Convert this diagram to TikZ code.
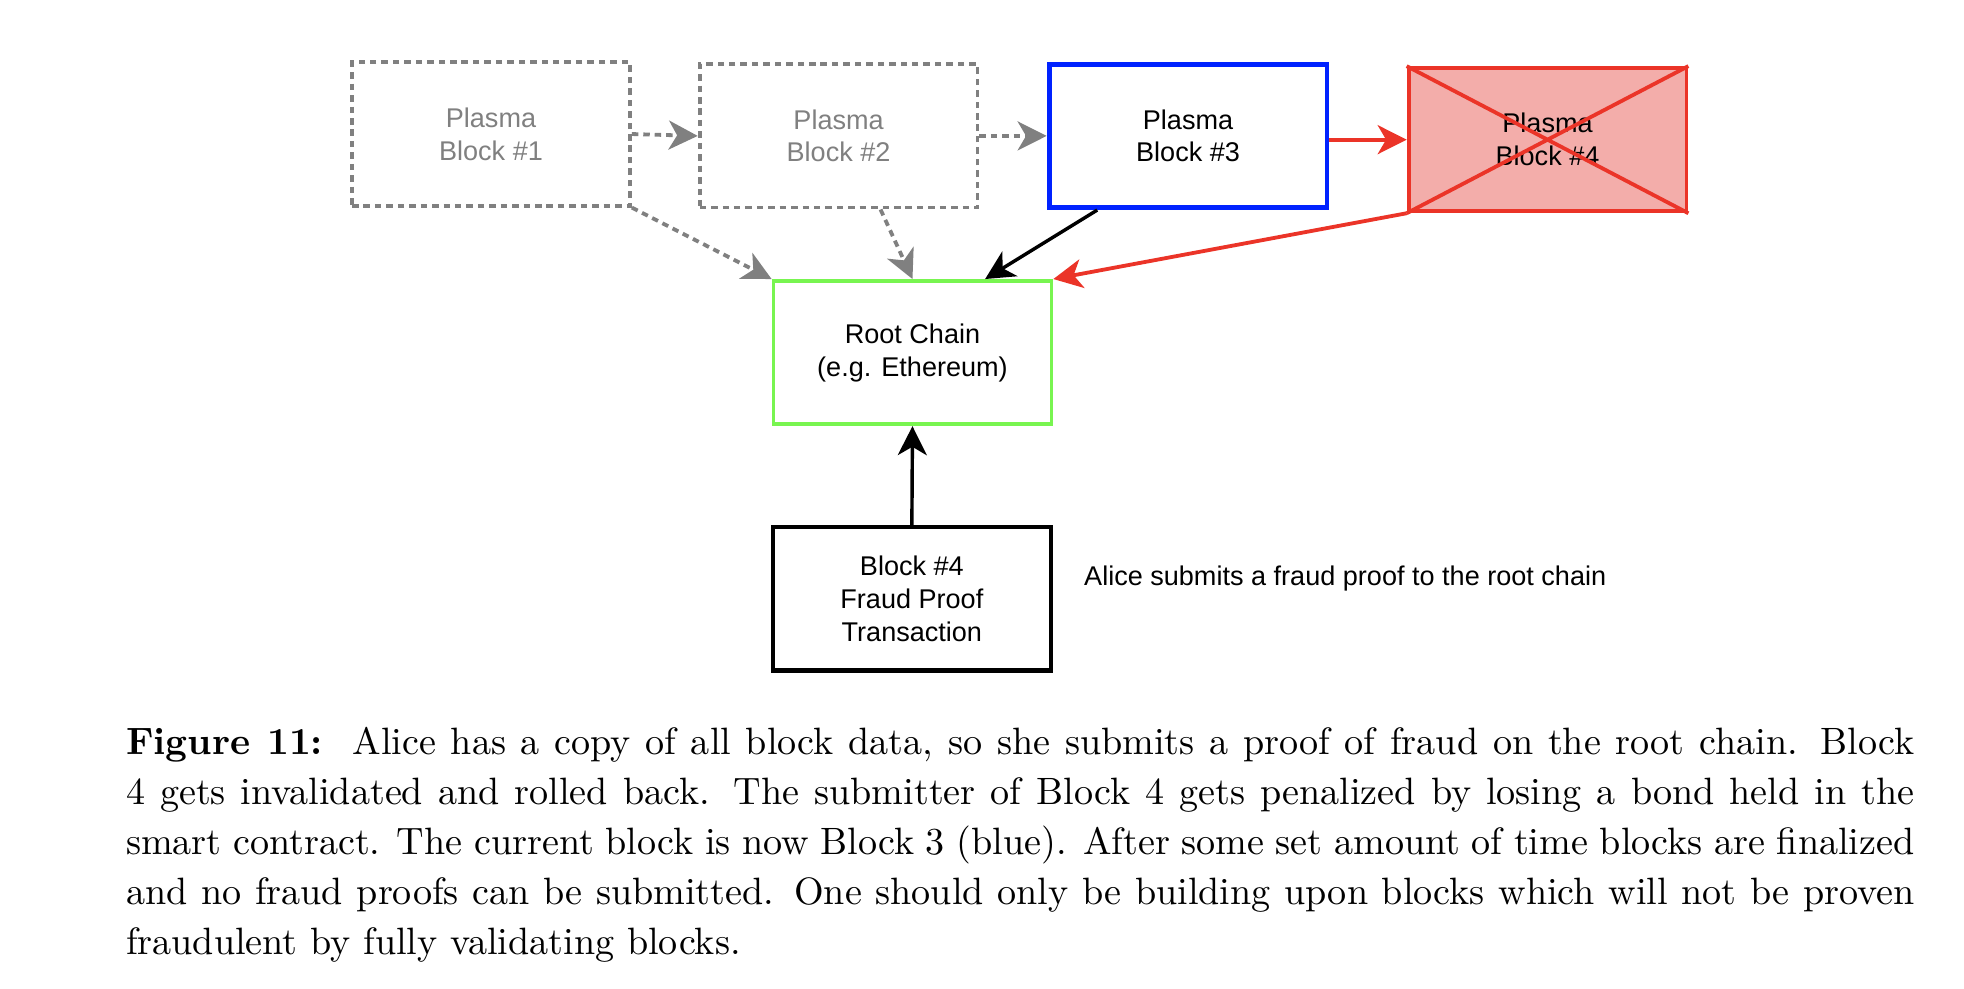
\documentclass[tikz,border=0pt]{standalone}
\usepackage{fontspec}
\newfontfamily\diag{Liberation Sans}
\usetikzlibrary{arrows.meta,calc}
\definecolor{dgray}{RGB}{128,128,128}
\definecolor{dblue}{RGB}{0,34,255}
\definecolor{dred}{RGB}{235,52,40}
\definecolor{dpink}{RGB}{243,173,170}
\definecolor{dgreen}{RGB}{120,245,80}
\newcommand{\capline}[1]{\makebox[469.2pt][s]{#1}}
\begin{document}
\begin{tikzpicture}[x=0.3286pt,y=-0.3286pt,
  blk/.style={draw, minimum width=72.9pt, minimum height=37.6pt, inner sep=0pt,
    align=center, line width=1pt, font=\diag\fontsize{7.1}{8.6}\selectfont},
  ghost/.style={blk, draw=dgray, text=dgray, dash pattern=on 1.7pt off 1.3pt},
  tip/.style={-{Stealth[length=7.6pt,width=7.6pt,inset=2.2pt]}},
  garrow/.style={tip, draw=dgray, line width=1pt, dash pattern=on 1.7pt off 1.3pt},
  barrow/.style={tip, draw=black, line width=0.9pt},
  rarrow/.style={tip, draw=dred, line width=1pt},
  capfont/.style={font=\fontsize{10}{13.1}\selectfont, inner sep=0pt, anchor=base west}
]
\useasboundingbox (0,0) rectangle (1568,789);

\node[ghost] (b1) at (392,107) {Plasma\\Block \#1};
\node[ghost] (b2) at (669.5,108.5) {Plasma\\Block \#2};
\node[blk, draw=dblue, line width=1.3pt] (b3) at (948.5,108.5) {Plasma\\Block \#3};
\node[blk, draw=dred, fill=dpink] (b4) at (1235.5,111.5) {Plasma\\Block \#4};
\draw[dred, line width=1pt] (b4.north west) -- (b4.south east) (b4.north east) -- (b4.south west);
\node[blk, draw=dgreen] (root) at (728.5,281.5) {Root Chain\\(e.g. Ethereum)};
\node[blk, line width=1.1pt] (fraud) at (728,478) {Block \#4\\Fraud Proof\\Transaction};
\node[anchor=west, inner sep=0pt, font=\diag\fontsize{7.1}{8.6}\selectfont] (alice) at (865,462) {Alice submits a fraud proof to the root chain};

\draw[garrow] (b1.east) -- (b2.west);
\draw[garrow] (b2.east) -- (b3.west);
\draw[garrow] (b1.south east) -- (root.north west);
\draw[garrow] ($(b2.south)+(33.5,0)$) -- (root.north);
\draw[barrow] ($(b3.south)+(-72.5,0)$) -- ($(root.north)+(58,0)$);
\draw[rarrow] (b3.east |- b4.west) -- (b4.west);
\draw[rarrow] (b4.south west) -- (root.north east);
\draw[barrow] (fraud.north) -- (root.south);

\node[capfont] (c1) at (100,602) {\capline{\textbf{Figure 11:}\ \ Alice has a copy of all block data, so she submits a proof of fraud on the root chain. Block}};
\node[capfont] (c2) at (100,642) {\capline{4 gets invalidated and rolled back. The submitter of Block 4 gets penalized by losing a bond held in the}};
\node[capfont] (c3) at (100,682) {\capline{smart contract. The current block is now Block 3 (blue). After some set amount of time blocks are finalized}};
\node[capfont] (c4) at (100,722) {\capline{and no fraud proofs can be submitted. One should only be building upon blocks which will not be proven}};
\node[capfont] (c5) at (100,762) {fraudulent by fully validating blocks.};
\end{tikzpicture}
\end{document}
